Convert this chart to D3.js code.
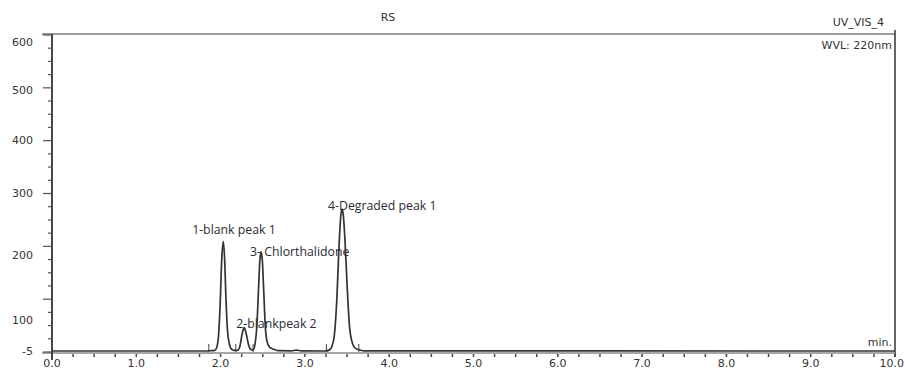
<!DOCTYPE html>
<html>
<head>
<meta charset="utf-8">
<script src="https://cdn.jsdelivr.net/npm/d3@7"></script>
<style>
  body { margin: 0; background: #fff; }
  svg { display: block; }
</style>
</head>
<body>
<div id="chart"></div>
<script>
// chromatogram trace (min / mAU)
const times = [0, 1.80, 1.88, 1.93, 1.955, 1.975, 1.995, 2.013, 2.03, 2.047, 2.063, 2.083, 2.105, 2.125, 2.16,
  2.20, 2.23, 2.255, 2.28, 2.305, 2.33, 2.36, 2.385, 2.41, 2.43, 2.45, 2.465, 2.48, 2.495, 2.51, 2.53,
  2.55, 2.58, 2.62, 2.68, 2.84, 2.90, 2.96, 3.24, 3.29, 3.32, 3.35, 3.38, 3.405, 3.425, 3.44, 3.455,
  3.475, 3.50, 3.53, 3.56, 3.59, 3.64, 3.70, 10.0]
const absorbance = [-5, -5, -4, -3, 8, 45, 125, 192, 222, 196, 135, 60, 18, 2, -3,
  -3, 12, 52, 74, 52, 18, 0, -2, 22, 78, 148, 190, 205, 192, 150, 80,
  28, 8, 2, -4, -4.5, -2, -4.5, -5, -2, 10, 50, 135, 215, 262, 274, 265,
  225, 155, 75, 25, 6, -1, -4.5, -5]

const peakNames = ["1-blank peak 1", "2-blankpeak 2", "3- Chlorthalidone", "4-Degraded peak 1"]
const peakTimes = [2.03, 2.28, 2.48, 3.44]
const peakHeights = [222, 74, 205, 274]
const markerTimes = [1.86, 2.18, 2.385, 3.255, 3.64]

const xTickValues = [0, 1, 2, 3, 4, 5, 6, 7, 8, 9, 10]
const yTickLabels = [600, 500, 400, 300, 200, 100, -5]

const width = 905
const height = 370
const plot = { left: 52, right: 895, top: 34, bottom: 353 }

const svg = d3.select("#chart")
  .append("svg")
    .attr("width", width)
    .attr("height", height)

const x = d3.scaleLinear().domain([0, 10]).range([plot.left, plot.right])
// y labels on the print are not evenly spaced, so a piecewise scale
const y = d3.scaleLinear()
  .domain([-5, 100, 200, 300, 400, 500, 600])
  .range([351, 320, 255, 193, 140, 90, 42])
// the tick marks themselves are evenly spaced
const yTick = d3.scaleLinear().domain([0, 24]).range([plot.bottom - 1, plot.top + 1])

const axisColor = "#333"
const axisFont = "DejaVu Sans"

// frame
svg.append("line").attr("x1", 42).attr("x2", plot.right).attr("y1", plot.top).attr("y2", plot.top)
  .attr("stroke", "#777").attr("stroke-width", 1.5)
svg.append("line").attr("x1", plot.right).attr("x2", plot.right).attr("y1", 30).attr("y2", 357)
  .attr("stroke", axisColor).attr("stroke-width", 1.5)
svg.append("line").attr("x1", 42).attr("x2", plot.right).attr("y1", plot.bottom).attr("y2", plot.bottom)
  .attr("stroke", "#888").attr("stroke-width", 1.5)
svg.append("line").attr("x1", plot.left).attr("x2", plot.left).attr("y1", plot.top).attr("y2", 360)
  .attr("stroke", axisColor).attr("stroke-width", 1.8)

// y ticks
svg.append("g").selectAll("line")
  .data(d3.range(0, 25))
  .join("line")
    .attr("x1", d => d % 4 === 0 ? 43 : 48)
    .attr("x2", plot.left)
    .attr("y1", d => yTick(d))
    .attr("y2", d => yTick(d))
    .attr("stroke", "#555")
    .attr("stroke-width", 1.2)

svg.append("g").selectAll("text")
  .data(yTickLabels)
  .join("text")
    .attr("x", 33)
    .attr("y", d => y(d))
    .attr("dy", "0.35em")
    .attr("text-anchor", "end")
    .attr("font-family", axisFont)
    .attr("font-size", 11)
    .attr("fill", axisColor)
    .text(d => d)

// x ticks
svg.append("g").selectAll("line")
  .data(d3.range(0, 10.01, 0.25))
  .join("line")
    .attr("x1", d => x(d))
    .attr("x2", d => x(d))
    .attr("y1", plot.bottom + 1)
    .attr("y2", plot.bottom + 4)
    .attr("stroke", "#444")
    .attr("stroke-width", 1.5)

// last label would run off the page, so it is right-aligned at the edge
svg.append("g").selectAll("text")
  .data(xTickValues)
  .join("text")
    .attr("x", d => d === 10 ? width - 1 : x(d))
    .attr("y", 363)
    .attr("dy", "0.35em")
    .attr("text-anchor", d => d === 10 ? "end" : "middle")
    .attr("font-family", axisFont)
    .attr("font-size", 11)
    .attr("fill", axisColor)
    .text(d => d3.format(".1f")(d))

// integration markers at the peak bases
svg.append("g").selectAll("line")
  .data(markerTimes)
  .join("line")
    .attr("x1", d => x(d))
    .attr("x2", d => x(d))
    .attr("y1", 344)
    .attr("y2", 352)
    .attr("stroke", "#444")
    .attr("stroke-width", 1)

// the trace
const trace = times.map((t, i) => ({ t: t, v: absorbance[i] }))
svg.append("path")
  .datum(trace)
  .attr("fill", "none")
  .attr("stroke", "#333")
  .attr("stroke-width", 1.7)
  .attr("d", d3.line()
    .x(d => x(d.t))
    .y(d => y(d.v))
    .curve(d3.curveMonotoneX))

// peak labels
const labelOffsets = [[-31, -12], [-8, -4], [-11, 0], [-14, -3]]
svg.append("g").selectAll("text")
  .data(peakNames)
  .join("text")
    .attr("x", (d, i) => x(peakTimes[i]) + labelOffsets[i][0])
    .attr("y", (d, i) => y(peakHeights[i]) + labelOffsets[i][1])
    .attr("dy", "0.35em")
    .attr("font-family", "Open Sans")
    .attr("font-size", 12.3)
    .attr("fill", "#2b2b33")
    .text(d => d)

// titles
svg.append("text").attr("x", 388).attr("y", 17).attr("dy", "0.35em")
  .attr("text-anchor", "middle").attr("font-family", axisFont).attr("font-size", 11)
  .attr("fill", axisColor).text("RS")
svg.append("text").attr("x", 884).attr("y", 22).attr("dy", "0.35em")
  .attr("text-anchor", "end").attr("font-family", axisFont).attr("font-size", 11)
  .attr("fill", axisColor).text("UV_VIS_4")
svg.append("text").attr("x", 892).attr("y", 45).attr("dy", "0.35em")
  .attr("text-anchor", "end").attr("font-family", axisFont).attr("font-size", 11)
  .attr("fill", axisColor).text("WVL: 220nm")

// "min." unit with a white patch behind it
svg.append("rect").attr("x", 866).attr("y", 335).attr("width", 28).attr("height", 14)
  .attr("fill", "#fff")
svg.append("text").attr("x", 892).attr("y", 342).attr("dy", "0.35em")
  .attr("text-anchor", "end").attr("font-family", axisFont).attr("font-size", 11)
  .attr("fill", axisColor).text("min.")
</script>
</body>
</html>
